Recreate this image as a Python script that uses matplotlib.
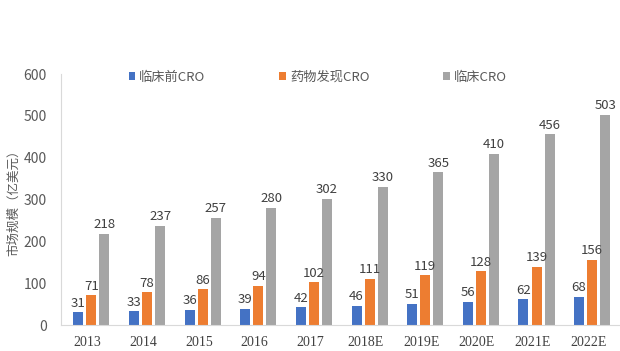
import matplotlib
matplotlib.use("Agg")
import matplotlib.pyplot as plt
import numpy as np

plt.rcParams['font.family'] = ['Noto Sans CJK SC', 'DejaVu Sans']

years = ["2013", "2014", "2015", "2016", "2017", "2018E", "2019E", "2020E", "2021E", "2022E"]
preclinical = [31, 33, 36, 39, 42, 46, 51, 56, 62, 68]
discovery = [71, 78, 86, 94, 102, 111, 119, 128, 139, 156]
clinical = [218, 237, 257, 280, 302, 330, 365, 410, 456, 503]
series_names = ["临床前CRO", "药物发现CRO", "临床CRO"]
colors = ["#4472C4", "#ED7D31", "#A5A5A5"]

fig = plt.figure(figsize=(6.2, 3.51), dpi=100)
ax = fig.add_axes([0.098, 0.074, 0.902, 0.715])

x = np.arange(len(years))
w = 0.18
off = 0.235
txtc = "#404040"
for i, (vals, name, c) in enumerate(zip([preclinical, discovery, clinical], series_names, colors)):
    pos = x + (i - 1) * off
    bars = ax.bar(pos, vals, width=w, color=c, label=name)
    for p, v in zip(pos, vals):
        ax.text(p, v + 6, str(v), ha="center", va="bottom", fontsize=9.5, color=txtc)

ax.set_xlim(-0.55, len(years) - 0.5)
ax.set_ylim(0, 600)
ax.set_yticks(range(0, 601, 100))
ax.set_xticks(x - 0.07)
ax.set_xticklabels(years, family=["Liberation Serif"], fontsize=10, color=txtc)
ax.tick_params(axis="y", labelsize=10, labelcolor="#595959", length=0, pad=10)
ax.tick_params(axis="x", length=0, pad=8)
for s in ["top", "right"]:
    ax.spines[s].set_visible(False)
ax.spines["left"].set_color("#D9D9D9")
ax.spines["bottom"].set_color("#D9D9D9")
ax.set_ylabel("市场规模（亿美元）", fontsize=9, color="#595959")
ax.yaxis.set_label_coords(-0.073, 0.5)

leg = ax.legend(loc="upper left", bbox_to_anchor=(0.1, 1.06), ncol=3, frameon=False,
                fontsize=9.5, handlelength=0.5, handleheight=0.5, handletextpad=0.3,
                columnspacing=5.6, labelcolor="#595959")

fig.savefig("out.png", dpi=100)
